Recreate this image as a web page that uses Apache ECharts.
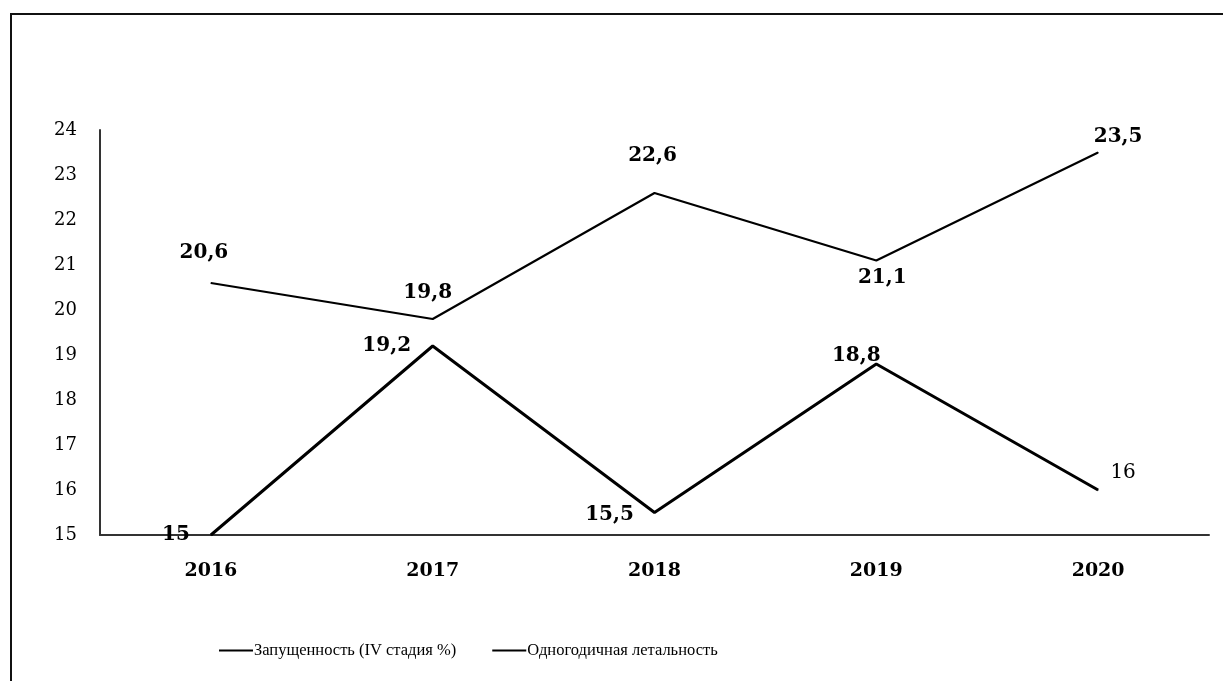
<!DOCTYPE html>
<html>
<head>
<meta charset="utf-8">
<script src="https://cdn.jsdelivr.net/npm/echarts@6/dist/echarts.min.js"></script>
<style>
  html, body { margin: 0; padding: 0; background: #fff; }
  #chart { width: 1223px; height: 681px; }
</style>
</head>
<body>
<div id="chart"></div>
<script>
const years = ['2016', '2017', '2018', '2019', '2020'];
const yTicks = [15, 16, 17, 18, 19, 20, 21, 22, 23, 24];
const seriesNames = ['Запущенность (IV стадия %)', 'Одногодичная летальность'];
const neglect = [15, 19.2, 15.5, 18.8, 16];
const mortality = [20.6, 19.8, 22.6, 21.1, 23.5];

// label offsets (style only)
const neglectOffsets = [[-35, 0], [-46, 0], [-45, 2], [-20, -8], [25, -17]];
const mortalityOffsets = [[-7, -30], [-5, -26], [-2, -37], [6, 17], [20, -16]];

const fmt = v => String(v).replace('.', ',');
const labelFont = { fontFamily: 'DejaVu Serif', fontWeight: 'bold', fontSize: 20, color: '#000' };

function buildData(values, offsets, normalIdx) {
  return values.map((v, i) => ({
    value: v,
    label: Object.assign({
      show: true, position: 'inside', offset: offsets[i],
      formatter: p => fmt(p.value)
    }, labelFont, normalIdx === i ? { fontWeight: 'normal' } : {})
  }));
}

const chart = echarts.init(document.getElementById('chart'), null, { renderer: 'canvas' });
chart.setOption({
  animation: false,
  backgroundColor: '#fff',
  graphic: [{
    type: 'rect', silent: true, z: -1,
    shape: { x: 11, y: 14, width: 1300, height: 720 },
    style: { fill: 'none', stroke: '#111', lineWidth: 2 }
  }],
  grid: { left: 100, right: 14, top: 130, bottom: 146 },
  legend: {
    data: seriesNames,
    left: 214, top: 637,
    icon: 'rect', itemWidth: 34, itemHeight: 2, itemGap: 36,
    textStyle: { fontFamily: 'Liberation Serif', fontSize: 16.5, color: '#000', padding: [0, 0, 0, -4] }
  },
  xAxis: {
    type: 'category', data: years, boundaryGap: true,
    axisLine: { show: true, lineStyle: { color: '#333', width: 2 } },
    axisTick: { show: false },
    axisLabel: { margin: 27, fontFamily: 'DejaVu Serif', fontWeight: 'bold', fontSize: 19, color: '#000' },
    splitLine: { show: false }
  },
  yAxis: {
    type: 'value', min: yTicks[0], max: yTicks[yTicks.length - 1], interval: 1,
    axisLine: { show: true, lineStyle: { color: '#333', width: 2 } },
    axisTick: { show: false },
    axisLabel: { margin: 23, fontFamily: 'DejaVu Serif', fontSize: 18, color: '#000' },
    splitLine: { show: false }
  },
  series: [
    {
      name: seriesNames[0], type: 'line', data: buildData(neglect, neglectOffsets, 4),
      symbol: 'circle', symbolSize: 1,
      lineStyle: { color: '#000', width: 3 }, itemStyle: { color: '#000' }
    },
    {
      name: seriesNames[1], type: 'line', data: buildData(mortality, mortalityOffsets, -1),
      symbol: 'circle', symbolSize: 1,
      lineStyle: { color: '#000', width: 2.2 }, itemStyle: { color: '#000' }
    }
  ]
});
</script>
</body>
</html>
